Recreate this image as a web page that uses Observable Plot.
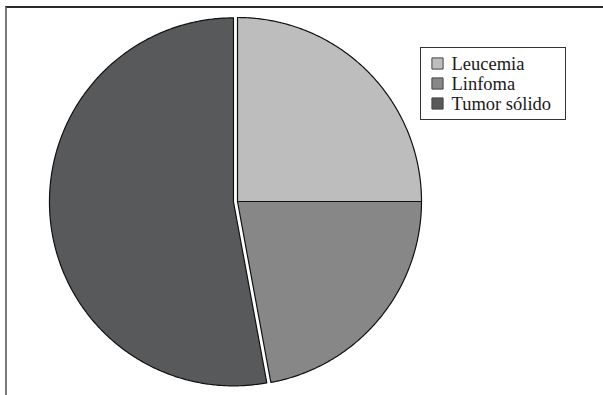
<!DOCTYPE html>
<html>
<head>
<meta charset="utf-8">
<script src="https://cdn.jsdelivr.net/npm/d3@7"></script>
<script src="https://cdn.jsdelivr.net/npm/@observablehq/plot@0.6"></script>
<style>
  html, body { margin: 0; padding: 0; background: #fff; }
  #wrap { position: relative; width: 603px; height: 395px; overflow: hidden; }
  #frame { position: absolute; left: 5px; top: 6px; right: 0; bottom: -4px;
           border-top: 2px solid #2a2a2a; border-left: 2px solid #7a7a7a; }
  #chart { position: absolute; left: 0; top: 0; }
  #legendbox { position: absolute; left: 420px; top: 47px; width: 144px; height: 71px;
            border: 1px solid #333; background: #fff; }
</style>
</head>
<body>
<div id="wrap">
  <div id="frame"></div>
  <div id="legendbox"></div>
  <div id="chart"></div>
</div>
<script>
const categories = ["Leucemia", "Linfoma", "Tumor sólido"];
const values = [25.0, 22.1, 52.9];
const exploded = [false, false, true];

const colors = ["#bdbdbd", "#878787", "#58595b"];

const total = d3.sum(values);
const rows = [];
let start = 0;
categories.forEach((cat, i) => {
  const a0 = start / total * 2 * Math.PI;
  const a1 = (start + values[i]) / total * 2 * Math.PI;
  start += values[i];
  const mid = (a0 + a1) / 2;
  const off = exploded[i] ? 0.022 : 0;
  const cx = off * Math.sin(mid), cy = off * Math.cos(mid);
  rows.push({cat, x: cx, y: cy, order: 0});
  const n = Math.max(2, Math.ceil((a1 - a0) / (Math.PI / 360)));
  for (let k = 0; k <= n; k++) {
    const a = a0 + (a1 - a0) * k / n;
    rows.push({cat, x: cx + Math.sin(a), y: cy + Math.cos(a), order: k + 1});
  }
});

const legendMarks = categories.flatMap((cat, i) => [
  Plot.dot([cat], {
    fill: (d) => d, stroke: "#444", strokeWidth: 1, symbol: "square", r: 6.3,
    frameAnchor: "top-left", dx: 437, dy: 63 + i * 20
  }),
  Plot.text([cat], {
    text: (d) => d, frameAnchor: "top-left", dx: 451, dy: 63.5 + i * 20,
    textAnchor: "start", lineAnchor: "middle", fill: "#1a1a1a",
    fontFamily: "Liberation Serif, Times New Roman, serif", fontSize: 18.5
  })
]);

const chart = Plot.plot({
  width: 603,
  height: 395,
  margin: 0,
  x: {domain: [-1, 1], range: [53, 421], axis: null},
  y: {domain: [-1, 1], range: [385, 17], axis: null},
  color: {domain: categories, range: colors},
  style: {background: "transparent", fontFamily: "Liberation Serif, serif"},
  marks: [
    Plot.line(rows, {
      x: "x", y: "y", z: "cat", fill: "cat",
      stroke: "#111", strokeWidth: 1.2, curve: "linear-closed"
    }),
    ...legendMarks
  ]
});
document.getElementById("chart").appendChild(chart);
</script>
</body>
</html>
